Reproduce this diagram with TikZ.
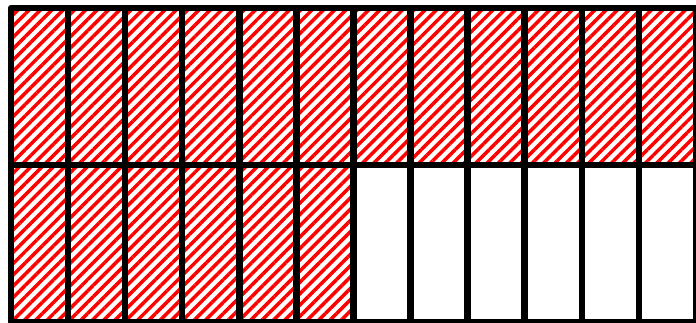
\documentclass[tikz,border=0pt]{standalone}
\usetikzlibrary{patterns.meta}
\tikzset{
  hatched/.style={pattern={Lines[angle=45,distance=8pt,line width=3.5pt]}, pattern color=red},
  gridline/.style={line width=6.5pt, line join=round}
}

\begin{document}
\begin{tikzpicture}[x=1pt,y=1pt]
  \useasboundingbox (0,0) rectangle (696,322);
  \fill[white] (0,0) rectangle (696,322);
  \clip (0,0) rectangle (696,322);

  % shaded cells: whole top row, half of the bottom row
  \foreach \i in {0,...,11}
    \fill[hatched] (11+\i*57.08,157) rectangle ++(57.08,157);
  \foreach \i in {0,...,5}
    \fill[hatched] (11+\i*57.08,0) rectangle ++(57.08,157);

  % grid
  \foreach \i in {1,...,11}
    \draw[gridline] (11+\i*57.08,0) -- ++(0,314);
  \draw[gridline] (11,157) -- (695.96,157);
  \draw[gridline] (11,0) rectangle (695.96,314);
\end{tikzpicture}
\end{document}
